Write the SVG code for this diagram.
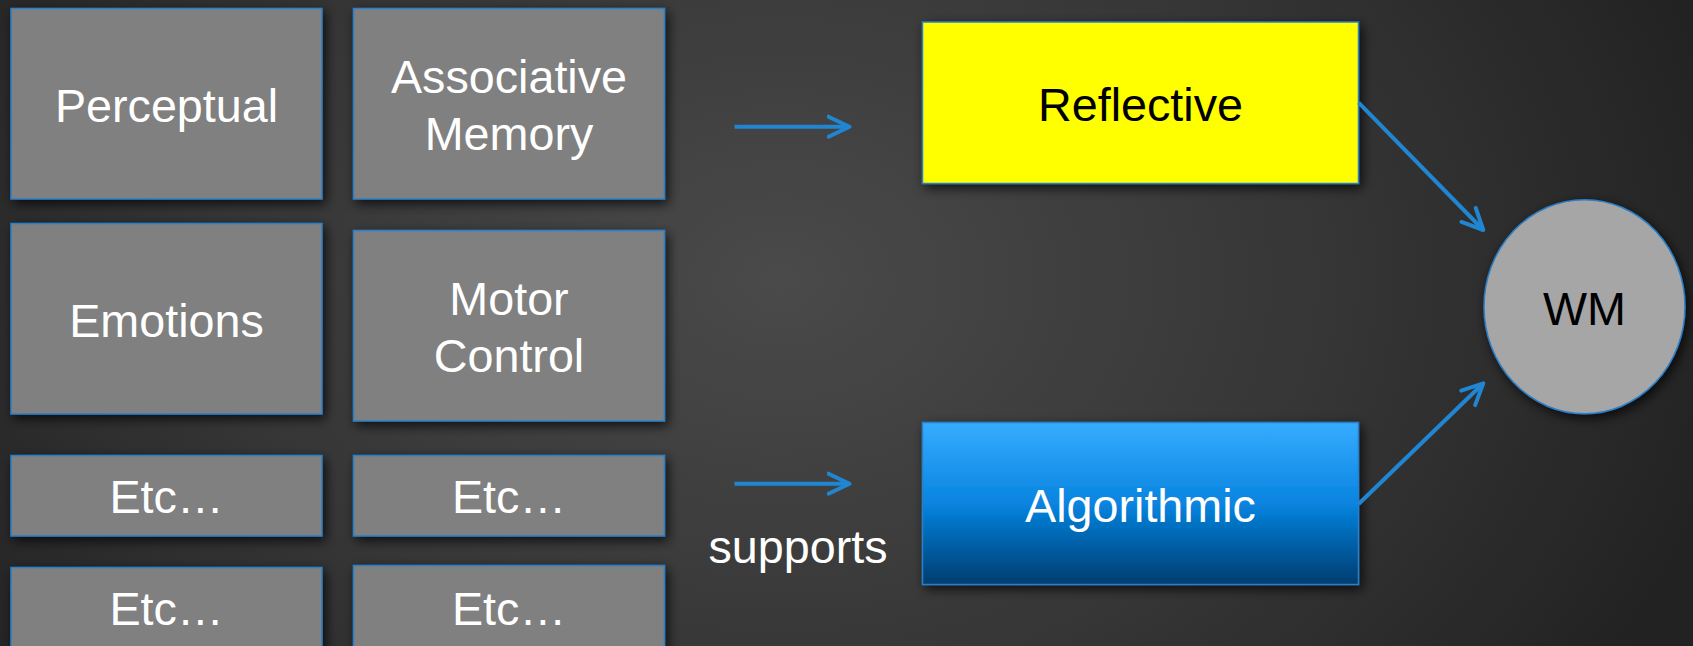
<svg xmlns="http://www.w3.org/2000/svg" width="1693" height="646" viewBox="0 0 1693 646">
  <defs>
    <radialGradient id="bg" gradientUnits="userSpaceOnUse" cx="780" cy="280" r="980" gradientTransform="translate(780 280) scale(1 0.75) translate(-780 -280)">
      <stop offset="0" stop-color="#4a4a4a"/>
      <stop offset="0.55" stop-color="#363636"/>
      <stop offset="1" stop-color="#222222"/>
    </radialGradient>
    <linearGradient id="blueFill" x1="0" y1="0" x2="0" y2="1">
      <stop offset="0" stop-color="#37acff"/>
      <stop offset="0.5" stop-color="#0784e0"/>
      <stop offset="1" stop-color="#013d70"/>
    </linearGradient>
    <filter id="shadow" x="-20%" y="-20%" width="140%" height="150%">
      <feDropShadow dx="3" dy="4" stdDeviation="6" flood-color="#000" flood-opacity="0.75"/>
    </filter>
    <marker id="chevron" markerUnits="userSpaceOnUse" viewBox="0 0 26 26" markerWidth="26" markerHeight="26" refX="23" refY="13" orient="auto">
      <path d="M2,3 L23,13 L2,23" fill="none" stroke="#2186d2" stroke-width="4" stroke-linecap="round" stroke-linejoin="round"/>
    </marker>
    <style>
      .box { fill: #808080; stroke: #2a7fc8; stroke-width: 1.5; filter: url(#shadow); }
      .lbl { font-family: "Liberation Sans", Arial, sans-serif; font-size: 46.7px; text-anchor: middle; fill: #ffffff; }
      .dark { fill: #000000; }
      .conn { stroke: #2186d2; stroke-width: 4; fill: none; marker-end: url(#chevron); }
    </style>
  </defs>

  <rect width="1693" height="646" fill="url(#bg)"/>

  <!-- subsystem boxes -->
  <g id="perceptual">
    <rect class="box" x="11" y="8.5" width="311" height="190.5"/>
    <text class="lbl" x="166.5" y="121.7">Perceptual</text>
  </g>
  <g id="associative-memory">
    <rect class="box" x="353.5" y="8.5" width="311" height="190.5"/>
    <text class="lbl" x="509" y="92.7">Associative</text>
    <text class="lbl" x="509" y="150">Memory</text>
  </g>
  <g id="emotions">
    <rect class="box" x="11" y="223.5" width="311" height="190.5"/>
    <text class="lbl" x="166.5" y="336.7">Emotions</text>
  </g>
  <g id="motor-control">
    <rect class="box" x="353.5" y="230.5" width="311" height="190.5"/>
    <text class="lbl" x="509" y="315">Motor</text>
    <text class="lbl" x="509" y="372.3">Control</text>
  </g>
  <g id="etc-1">
    <rect class="box" x="11" y="455.5" width="311" height="80.5"/>
    <text class="lbl" x="166.5" y="513.3">Etc…</text>
  </g>
  <g id="etc-2">
    <rect class="box" x="353.5" y="455.5" width="311" height="80.5"/>
    <text class="lbl" x="509" y="513.3">Etc…</text>
  </g>
  <g id="etc-3">
    <rect class="box" x="11" y="567.5" width="311" height="110"/>
    <text class="lbl" x="166.5" y="625">Etc…</text>
  </g>
  <g id="etc-4">
    <rect class="box" x="353.5" y="565.5" width="311" height="110"/>
    <text class="lbl" x="509" y="625">Etc…</text>
  </g>

  <!-- minds -->
  <g id="reflective">
    <rect class="box" x="922.5" y="22" width="436" height="161.5" style="fill:#ffff00"/>
    <text class="lbl dark" x="1140.5" y="120.7">Reflective</text>
  </g>
  <g id="algorithmic">
    <rect class="box" x="922.5" y="422.5" width="436" height="162" style="fill:url(#blueFill)"/>
    <text class="lbl" x="1140.5" y="521.7">Algorithmic</text>
  </g>
  <g id="wm">
    <ellipse cx="1584.5" cy="306.7" rx="100.5" ry="107" fill="#a6a6a6" stroke="#2a7fc8" stroke-width="1.5" filter="url(#shadow)"/>
    <text class="lbl dark" x="1584.5" y="325">WM</text>
  </g>

  <g id="supports-label">
    <text class="lbl" x="798" y="563.3">supports</text>
  </g>

  <!-- connectors -->
  <g id="connectors">
    <line class="conn" x1="734.5" y1="126.7" x2="849.5" y2="126.7"/>
    <line class="conn" x1="734.5" y1="483.7" x2="849.5" y2="483.7"/>
    <line class="conn" x1="1358.6" y1="102.7" x2="1483.3" y2="230"/>
    <line class="conn" x1="1358.6" y1="504" x2="1483.3" y2="383.3"/>
  </g>
</svg>
